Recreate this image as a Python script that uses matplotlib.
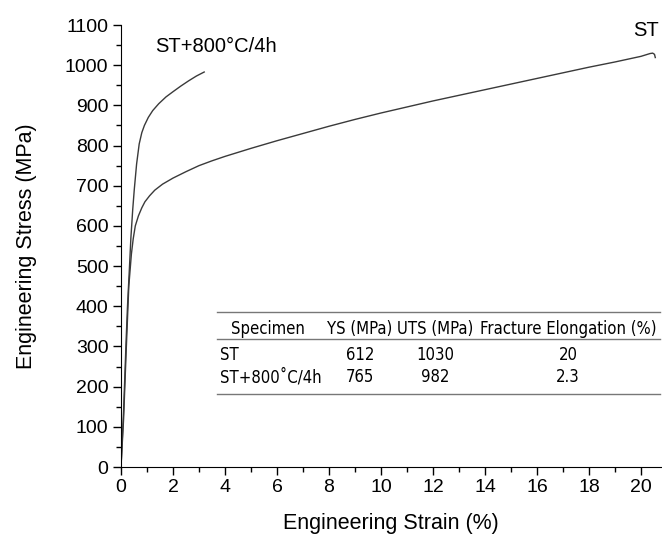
import numpy as np
import matplotlib.pyplot as plt
from matplotlib.lines import Line2D
from matplotlib.ticker import MultipleLocator

# Data
# ST curve (strain %, stress MPa)
st_strain = [0, 0.1, 0.2, 0.3, 0.4, 0.47, 0.55, 0.67, 0.8, 0.92, 1.1, 1.3, 1.6, 2.0, 2.5, 3.0, 3.5,
             4, 5, 6, 7, 8, 9, 10, 11, 12, 13, 14, 15, 16, 17, 18, 19, 20, 20.35, 20.45, 20.52, 20.55]
st_stress = [0, 120, 290, 450, 530, 568, 600, 625, 645, 660, 675, 689, 704, 719, 735, 750, 762,
             773, 793, 812, 830, 848, 865, 881, 896, 911, 925, 939, 953, 967, 981, 995, 1008, 1022,
             1029, 1030, 1027, 1019]
# ST+800C/4h curve
ht_strain = [0, 0.1, 0.2, 0.25, 0.32, 0.38, 0.45, 0.51, 0.6, 0.7, 0.8, 0.9, 1.05, 1.22, 1.45,
             1.73, 2.0, 2.3, 2.6, 2.9, 3.2]
ht_stress = [0, 140, 320, 400, 490, 570, 640, 690, 754, 804, 832, 850, 870, 887, 904,
             921, 934, 948, 961, 973, 983]

# table contents
tbl_header = ["Specimen", "YS (MPa)", "UTS (MPa)", "Fracture Elongation (%)"]
tbl_rows = [["ST", "612", "1030", "20"],
            ["ST+800\u02daC/4h", "765", "982", "2.3"]]

W, H = 662, 538
plt.rcParams['font.family'] = ['Liberation Sans', 'DejaVu Sans']
fig = plt.figure(figsize=(W / 100, H / 100), dpi=100)
ax = fig.add_axes([121 / W, 1 - 467 / H, 540 / W, 442 / H])

ax.plot(st_strain, st_stress, color='#3a3a3a', lw=1.0)
ax.plot(ht_strain, ht_stress, color='#3a3a3a', lw=1.0)

ax.set_xlim(0, 20.77)
ax.set_ylim(0, 1100)
ax.xaxis.set_major_locator(MultipleLocator(2))
ax.xaxis.set_minor_locator(MultipleLocator(1))
ax.yaxis.set_major_locator(MultipleLocator(100))
ax.yaxis.set_minor_locator(MultipleLocator(50))
ax.spines['top'].set_visible(False)
ax.spines['right'].set_visible(False)
ax.tick_params(which='major', direction='out', length=6, width=1, labelsize=14, pad=3)
ax.tick_params(which='minor', direction='out', length=3.5, width=1)
ax.set_xlabel('Engineering Strain (%)', fontsize=15.5, labelpad=12)
ax.set_ylabel('Engineering Stress (MPa)', fontsize=15.5, labelpad=20)


def px(x, y):
    return x / W, 1 - y / H


# curve labels, positions in pixels
fig.text(*px(216, 47), 'ST+800\u00b0C/4h', fontsize=14.5, ha='center', va='center')
fig.text(*px(659, 31), 'ST', fontsize=14.5, ha='right', va='center')

# table
tfont = dict(fontsize=12.0, family=['DejaVu Sans'], stretch='condensed', va='center')
for yy in (312, 339, 394):
    fig.add_artist(Line2D([217 / W, 660 / W], [1 - yy / H, 1 - yy / H], color='#777777', lw=1.0))
col_x = [268, 360, 435, 568]
for cx, s in zip(col_x, tbl_header):
    fig.text(*px(cx, 329), s, ha='center', **tfont)
for ry, row in zip((355, 377), tbl_rows):
    fig.text(*px(220, ry), row[0], ha='left', **tfont)
    for cx, s in zip(col_x[1:], row[1:]):
        fig.text(*px(cx, ry), s, ha='center', **tfont)

fig.savefig('out.png', dpi=100)
